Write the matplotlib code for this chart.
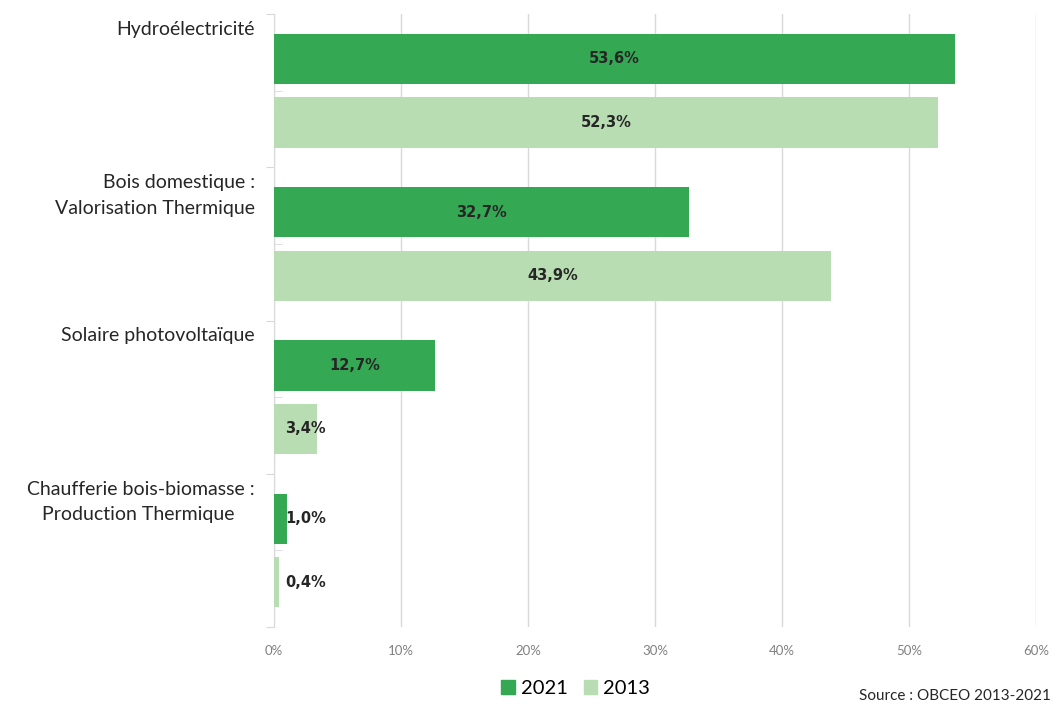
import numpy as np
import matplotlib
matplotlib.use('Agg')
import matplotlib.pyplot as plt
from matplotlib.patches import Patch

# parts de production par filière
categories = ['Hydroélectricité',
              'Bois domestique :\nValorisation Thermique',
              'Solaire photovoltaïque',
              'Chaufferie bois-biomasse :\nProduction Thermique    ']
val_2021 = [53.6, 32.7, 12.7, 1.0]
val_2013 = [52.3, 43.9, 3.4, 0.4]
xticks = [0, 10, 20, 30, 40, 50, 60]

c_2021 = '#34A853'
c_2013 = '#B8DDB2'
gris = '#D9D9D9'

plt.rcParams['font.family'] = ['Lato', 'DejaVu Sans']

fig = plt.figure(figsize=(10.56, 7.04), dpi=100)
ax = fig.add_axes([0.2595, 0.1094, 0.7215, 0.8706])

y = np.arange(len(categories))
h = 0.328
off = 0.207

b1 = ax.barh(y - off, val_2021, height=h, color=c_2021, zorder=3)
b2 = ax.barh(y + off, val_2013, height=h, color=c_2013, zorder=3)

# étiquettes de valeur
for bars, vals in [(b1, val_2021), (b2, val_2013)]:
    for rect, v in zip(bars, vals):
        yc = rect.get_y() + rect.get_height() / 2
        txt = f'{v:.1f}%'.replace('.', ',')
        if v > 5:
            ax.text(v / 2, yc, txt, ha='center', va='center', fontsize=10.5,
                    fontweight='bold', color='#262626', family=['DejaVu Sans'], zorder=4)
        else:
            ax.text(0.9, yc, txt, ha='left', va='center', fontsize=10.5,
                    fontweight='bold', color='#262626', family=['DejaVu Sans'], zorder=4)

ax.set_xlim(0, 60)
ax.set_ylim(len(categories) - 0.5, -0.5)
ax.set_xticks(xticks)
ax.set_xticklabels([f'{t}%' for t in xticks], color='#808080', fontsize=9.5)
ax.tick_params(axis='x', length=0, pad=13)
ax.grid(axis='x', color=gris, linewidth=1, zorder=0)

# axe des catégories
ax.set_yticks(np.arange(-0.5, len(categories)), labels=[])
ax.set_yticks(y, minor=True)
ax.tick_params(axis='y', which='major', direction='out', length=6, color=gris)
ax.tick_params(axis='y', which='minor', direction='in', length=6, color=gris)
for s in ['top', 'right', 'bottom']:
    ax.spines[s].set_visible(False)
ax.spines['left'].set_color(gris)

for i, cat in enumerate(categories):
    ax.text(-0.025, i - 0.5 + 0.045, cat, transform=ax.get_yaxis_transform(),
            ha='right', va='top', fontsize=14, color='#262626', linespacing=1.6)

handles = [Patch(color=c_2021, label='2021'), Patch(color=c_2013, label='2013')]
fig.legend(handles=handles, loc='lower center', bbox_to_anchor=(0.545, -0.016), ncol=2,
           frameon=False, fontsize=14.5, handlelength=0.65, handleheight=0.65,
           handletextpad=0.3, columnspacing=0.8)

fig.text(0.995, 0.002, 'Source : OBCEO 2013-2021', ha='right', va='bottom',
         fontsize=11, color='#262626')

fig.savefig('out.png', dpi=100)
